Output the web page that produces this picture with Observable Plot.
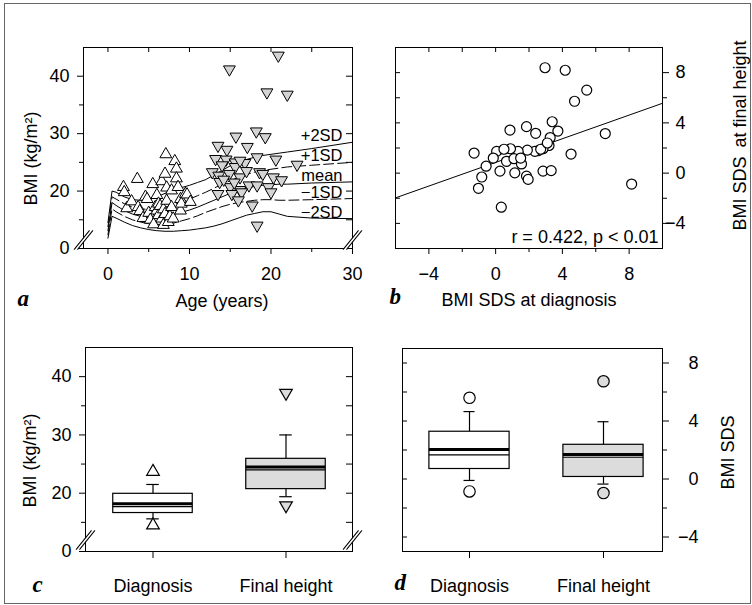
<!DOCTYPE html>
<html>
<head>
<meta charset="utf-8">
<script src="https://cdn.jsdelivr.net/npm/d3@7"></script>
<script src="https://cdn.jsdelivr.net/npm/@observablehq/plot@0.6"></script>
<style>
  html, body { margin: 0; padding: 0; background: #fff; }
  #fig { position: relative; width: 752px; height: 605px; overflow: hidden; }
  #fig .border { position: absolute; left: 4px; top: 3px; width: 747px; height: 601px; border: 1px solid #666; box-sizing: border-box; }
  #fig .panel { position: absolute; }
</style>
</head>
<body>
<div id="fig"><div class="border"></div></div>
<script>
// ---- Reference BMI curves by age (kg/m²) ----
const refAges = [0, 0.5, 1, 2, 3, 4, 5, 6, 7, 8, 9, 10, 11, 12, 13, 14, 15, 16, 17, 18, 19, 20, 21, 22, 25, 30];
const refPlus2 = [14.5, 20.0, 19.8, 19.0, 18.5, 18.4, 18.6, 19.0, 19.6, 20.2, 20.6, 21.0, 21.5, 22.0, 22.8, 23.6, 24.4, 25.0, 25.5, 25.9, 26.2, 26.4, 26.6, 26.8, 27.4, 28.5];
const refPlus1 = [13.8, 19.0, 18.6, 17.8, 17.2, 16.9, 16.8, 16.9, 17.2, 17.6, 18.1, 18.6, 19.2, 19.8, 20.5, 21.2, 21.8, 22.4, 22.9, 23.3, 23.6, 23.8, 24.0, 24.2, 24.5, 25.0];
const refMean  = [13.1, 18.0, 17.5, 16.6, 16.0, 15.6, 15.4, 15.4, 15.6, 15.9, 16.3, 16.7, 17.2, 17.8, 18.4, 19.0, 19.6, 20.1, 20.5, 20.8, 21.0, 21.1, 21.2, 21.2, 21.4, 21.6];
const refMinus1 = [12.4, 16.9, 16.4, 15.6, 15.0, 14.6, 14.3, 14.2, 14.2, 14.4, 14.8, 15.2, 15.7, 16.3, 16.8, 17.3, 17.7, 18.0, 18.2, 18.4, 18.5, 18.5, 18.4, 18.4, 18.5, 18.7];
const refMinus2 = [11.8, 15.6, 15.3, 14.6, 14.0, 13.6, 13.3, 13.1, 13.0, 13.0, 13.1, 13.2, 13.4, 13.6, 13.9, 14.3, 14.8, 15.3, 15.8, 16.1, 16.4, 16.4, 16.0, 15.6, 15.3, 15.2];
const refNames = ["+2SD", "+1SD", "mean", "\u22121SD", "\u22122SD"];
const refDashed = [false, true, false, true, false];

// ---- Individual BMI at diagnosis and at final height ----
const diagAge = [1.9, 2.0, 2.3, 2.9, 3.6, 3.7, 3.9, 4.3, 4.6, 4.8, 5.0, 5.2, 5.5, 5.6, 5.8, 6.0, 6.0, 6.2, 6.2, 6.4, 6.6, 6.6, 6.8, 6.8, 7.0, 7.0, 7.1, 7.2, 7.2, 7.4, 7.6, 7.8, 7.8, 8.0, 8.2, 8.4, 8.4, 8.6, 8.9, 8.9, 9.0, 9.5, 9.7, 10.1];
const diagBmi = [20.7, 19.8, 17.0, 18.2, 22.1, 17.2, 16.5, 15.3, 19.0, 18.6, 16.2, 15.0, 21.2, 14.2, 17.2, 19.3, 16.6, 17.8, 15.8, 17.4, 21.7, 15.2, 16.8, 14.1, 23.0, 16.0, 26.4, 20.6, 18.3, 14.6, 15.6, 20.1, 17.2, 15.2, 25.2, 23.9, 22.2, 20.7, 18.6, 16.6, 17.8, 19.5, 19.4, 18.1];
const finalAge = [20.9, 14.9, 19.5, 22.0, 18.2, 19.3, 15.7, 13.5, 14.6, 17.1, 13.2, 14.5, 15.6, 16.8, 18.3, 20.6, 23.2, 15.6, 16.2, 12.8, 13.6, 14.9, 16.2, 18.6, 20.3, 21.3, 13.7, 15.0, 16.2, 17.3, 18.3, 19.7, 13.5, 15.2, 16.4, 20.0, 16.0, 17.7, 18.3, 14.2, 17.0, 19.0, 15.5, 14.0];
const finalBmi = [43.6, 41.2, 37.2, 36.8, 30.4, 29.4, 29.5, 27.9, 27.2, 27.7, 25.6, 25.5, 25.0, 24.9, 25.9, 25.5, 24.6, 24.2, 25.3, 23.3, 22.7, 23.0, 22.4, 23.3, 22.4, 21.9, 21.6, 20.7, 20.2, 21.0, 21.0, 20.7, 19.5, 19.5, 19.8, 19.8, 18.4, 17.5, 14.0, 22.0, 23.5, 23.0, 21.5, 24.5];

// ---- BMI SDS at diagnosis vs at final height ----
const sdsDiag = [2.96, 4.17, 5.46, 4.73, 3.39, 3.73, 0.86, 1.85, 2.40, 6.57, 3.27, 3.20, 2.84, 2.54, 2.35, 1.90, 1.35, 0.89, 0.06, -1.29, -0.14, -0.57, 0.65, 1.10, 1.55, 0.26, 1.15, 1.85, 1.95, 2.84, 3.33, -0.83, -1.03, 4.52, 8.15, 0.34, 0.5, 1.5, 2.7, 3.1];
const sdsFinal = [8.39, 8.19, 6.61, 5.72, 4.09, 3.35, 3.43, 3.70, 3.17, 3.15, 2.83, 2.20, 1.94, 1.78, 1.73, 1.83, 1.73, 1.94, 1.73, 1.60, 1.20, 0.55, 0.94, 1.15, 0.73, 0.16, 0.02, -0.24, -0.50, 0.16, 0.20, -0.31, -1.21, 1.52, -0.87, -2.71, 1.9, 1.2, 1.9, 2.4];
const fitX = [-6, 10];
const fitY = [-1.97, 5.56];
const fitText = "r = 0.422, p < 0.01";

// ---- Box plot summaries ----
const groups = ["Diagnosis", "Final height"];
const bmiQ1 = [16.6, 20.7], bmiQ3 = [19.9, 25.9], bmiMedian = [18.2, 24.5], bmiMean = [17.7, 24.0];
const bmiLo = [15.6, 19.4], bmiHi = [21.5, 30.0], bmiOutLo = [14.5, 17.9], bmiOutHi = [23.7, 37.2];
const sdsQ1 = [0.69, 0.14], sdsQ3 = [3.26, 2.36], sdsMedian = [2.03, 1.69], sdsMean = [1.67, 1.50];
const sdsLo = [-0.1, -0.35], sdsHi = [4.65, 3.95], sdsOutLo = [-0.86, -0.97], sdsOutHi = [5.6, 6.74];

// ---- Tick values ----
const ageTicks = [0, 10, 20, 30], ageMinor = [5, 15, 25], ageTop = [0, 5, 10, 15, 20, 25];
const bmiTicks = [10, 20, 30, 40], bmiMinor = [15, 25, 35], bmiRight = [15, 20, 25, 30, 35, 40];
const sdsTicks = [-4, 0, 4, 8], sdsMinor = [-2, 2, 6], sdsAll = [-4, -2, 0, 2, 4, 6, 8];

// ---- Shared styling ----
const FONT = '"Liberation Sans", Arial, Helvetica, sans-serif';
const SERIF = '"Liberation Serif", "Times New Roman", serif';
const baseStyle = {fontFamily: FONT, fontSize: "18px", color: "#000", background: "transparent", overflow: "visible"};
const GRAY_MARK = "#d4d4d4";
const GRAY_BOX = "#dcdcdc";
const fmt = d => d < 0 ? "\u2212" + Math.abs(d) : String(d);
const bmiFmt = d => d === 10 ? "0" : String(d);

const title = (s, o) => Plot.text([s], {text: d => d, fontSize: 18, ...o});
const letter = (s, o) => Plot.text([s], {text: d => d, fontFamily: SERIF, fontWeight: "bold", fontStyle: "italic",
  fontSize: 23, textAnchor: "start", lineAnchor: "bottom", frameAnchor: "bottom-left", ...o});
// axis break: two parallel slashes across a frame corner with a white gap between
const axisBreak = (anchor, dy) => [
  Plot.vector([0], {frameAnchor: anchor, dy, length: 24, rotate: 39, anchor: "middle", r: 0, stroke: "white", strokeWidth: 2.4}),
  Plot.vector([0], {frameAnchor: anchor, dy, dx: -1.7, length: 24, rotate: 39, anchor: "middle", r: 0, stroke: "black", strokeWidth: 1}),
  Plot.vector([0], {frameAnchor: anchor, dy, dx: 1.7, length: 24, rotate: 39, anchor: "middle", r: 0, stroke: "black", strokeWidth: 1})
];

function place(svg, left, top) {
  const holder = document.createElement("div");
  holder.className = "panel";
  holder.style.left = left + "px";
  holder.style.top = top + "px";
  holder.appendChild(svg);
  document.getElementById("fig").appendChild(holder);
}

// ---------- a: BMI vs age ----------
{
  const m = {top: 47, right: 24, bottom: 62, left: 83}, W = 376, H = 310;
  const pw = W - m.left - m.right, ph = H - m.top - m.bottom;
  const series = [refPlus2, refPlus1, refMean, refMinus1, refMinus2];
  const curves = refNames.flatMap((name, i) => refAges.map((age, j) => ({name, dashed: refDashed[i], age, bmi: series[i][j]})));
  const ends = refNames.map((name, i) => ({name, age: refAges[refAges.length - 1], bmi: series[i][series[i].length - 1]}));
  const diag = diagAge.map((age, i) => ({age, bmi: diagBmi[i]}));
  const fin = finalAge.map((age, i) => ({age, bmi: finalBmi[i]}));
  place(Plot.plot({
    width: W, height: H, marginTop: m.top, marginRight: m.right, marginBottom: m.bottom, marginLeft: m.left,
    style: baseStyle,
    x: {domain: [-3, 30]},
    y: {domain: [10, 45]},
    marks: [
      Plot.frame({stroke: "black"}),
      Plot.axisX({ticks: ageTicks, tickSize: 6, tickPadding: 13, label: null}),
      Plot.axisX({ticks: ageMinor, tickSize: 4, tickFormat: () => "", label: null}),
      Plot.axisY({ticks: bmiTicks, tickSize: 6, tickPadding: 8, tickFormat: bmiFmt, label: null}),
      Plot.axisY({ticks: bmiMinor, tickSize: 4, tickFormat: () => "", label: null}),
      Plot.tickX(ageTop, {x: d => d, insetBottom: ph - 5}),
      Plot.tickY(bmiRight, {y: d => d, insetLeft: pw - 6}),
      ...axisBreak("bottom-left", -8.5),
      ...axisBreak("bottom-right", -8.5),
      Plot.line(curves.filter(d => !d.dashed), {x: "age", y: "bmi", z: "name", stroke: "black", strokeWidth: 1}),
      Plot.line(curves.filter(d => d.dashed), {x: "age", y: "bmi", z: "name", stroke: "black", strokeWidth: 1, strokeDasharray: "10,4"}),
      Plot.text(ends, {x: "age", y: "bmi", text: "name", textAnchor: "end", lineAnchor: "bottom", dx: -10, dy: -1, fontSize: 16.5}),
      Plot.dot(diag, {x: "age", y: "bmi", symbol: "triangle", r: 4.4, fill: "white", stroke: "black", strokeWidth: 1}),
      Plot.dot(fin, {x: "age", y: "bmi", symbol: "triangle", rotate: 180, r: 4.4, fill: GRAY_MARK, stroke: "black", strokeWidth: 1}),
      title("BMI (kg/m\u00b2)", {frameAnchor: "left", rotate: -90, dx: -52.5, dy: 10.5, textAnchor: "middle", lineAnchor: "middle"}),
      title("Age (years)", {frameAnchor: "bottom", dx: 4, dy: 58, lineAnchor: "bottom"}),
      letter("a", {dx: -66, dy: 57})
    ]
  }), 0, 0);
}

// ---------- b: BMI SDS at final height vs at diagnosis ----------
{
  const m = {top: 47, right: 90, bottom: 62, left: 19}, W = 376, H = 310;
  const pw = W - m.left - m.right, ph = H - m.top - m.bottom;
  const pts = sdsDiag.map((x, i) => ({x, y: sdsFinal[i]}));
  const fit = fitX.map((x, i) => ({x, y: fitY[i]}));
  place(Plot.plot({
    width: W, height: H, marginTop: m.top, marginRight: m.right, marginBottom: m.bottom, marginLeft: m.left,
    style: baseStyle,
    x: {domain: [-6, 10]},
    y: {domain: [-6, 10]},
    marks: [
      Plot.frame({stroke: "black"}),
      Plot.axisX({ticks: sdsTicks, tickSize: 6, tickPadding: 13, tickFormat: fmt, label: null}),
      Plot.axisX({ticks: sdsMinor, tickSize: 4, tickFormat: () => "", label: null}),
      Plot.axisY({anchor: "right", ticks: sdsTicks, tickSize: 6, tickPadding: 17, textAnchor: "end", tickFormat: fmt, label: null}),
      Plot.axisY({anchor: "right", ticks: sdsMinor, tickSize: 4, tickFormat: () => "", label: null}),
      Plot.tickX(sdsAll, {x: d => d, insetBottom: ph - 5}),
      Plot.tickY(sdsAll, {y: d => d, insetRight: pw - 5}),
      Plot.line(fit, {x: "x", y: "y", stroke: "black", strokeWidth: 1}),
      Plot.dot(pts, {x: "x", y: "y", r: 5, fill: "white", stroke: "black", strokeWidth: 1.2}),
      Plot.text([fitText], {text: d => d, frameAnchor: "bottom-right", dx: -4, dy: -5.5, textAnchor: "end", lineAnchor: "bottom", fontSize: 18}),
      title("BMI SDS\u2002at final height", {frameAnchor: "right", rotate: -90, dx: 78, dy: -12.5, textAnchor: "middle", lineAnchor: "middle"}),
      title("BMI SDS at diagnosis", {frameAnchor: "bottom", dy: 57, lineAnchor: "bottom"}),
      letter("b", {dx: -6, dy: 55})
    ]
  }), 376, 0);
}

// box plot marks shared by c and d
function boxMarks(rows, boxInset, capInset, outSymbols, outR) {
  return [
    Plot.ruleX(rows, {x: "group", y1: "lo", y2: "q1", stroke: "black", strokeWidth: 1.2}),
    Plot.ruleX(rows, {x: "group", y1: "q3", y2: "hi", stroke: "black", strokeWidth: 1.2}),
    Plot.tickY(rows, {x: "group", y: "lo", insetLeft: capInset, insetRight: capInset, strokeWidth: 1.2}),
    Plot.tickY(rows, {x: "group", y: "hi", insetLeft: capInset, insetRight: capInset, strokeWidth: 1.2}),
    Plot.barY(rows, {x: "group", y1: "q1", y2: "q3", fill: "fill", stroke: "black", strokeWidth: 1.2, insetLeft: boxInset, insetRight: boxInset}),
    Plot.tickY(rows, {x: "group", y: "median", insetLeft: boxInset, insetRight: boxInset, strokeWidth: 3}),
    Plot.tickY(rows, {x: "group", y: "mean", insetLeft: boxInset, insetRight: boxInset, strokeWidth: 1.2}),
    ...["outLo", "outHi"].map(k => Plot.dot(rows, {x: "group", y: k, r: outR, fill: "fill", stroke: "black", strokeWidth: 1.2, ...outSymbols}))
  ];
}

// ---------- c: BMI box plots ----------
{
  const m = {top: 37, right: 24, bottom: 54, left: 85}, W = 376, H = 295;
  const pw = W - m.left - m.right;
  const rows = groups.map((group, i) => ({group, fill: i ? GRAY_BOX : "white",
    q1: bmiQ1[i], q3: bmiQ3[i], median: bmiMedian[i], mean: bmiMean[i], lo: bmiLo[i], hi: bmiHi[i], outLo: bmiOutLo[i], outHi: bmiOutHi[i]}));
  place(Plot.plot({
    width: W, height: H, marginTop: m.top, marginRight: m.right, marginBottom: m.bottom, marginLeft: m.left,
    style: baseStyle,
    x: {type: "band", domain: groups, padding: 0},
    y: {domain: [10, 45]},
    color: {type: "identity"},
    marks: [
      Plot.frame({stroke: "black"}),
      Plot.axisX({tickSize: 7, tickPadding: 21, label: null}),
      Plot.axisY({ticks: bmiTicks, tickSize: 6, tickPadding: 8, tickFormat: bmiFmt, label: null}),
      Plot.axisY({ticks: bmiMinor, tickSize: 4, tickFormat: () => "", label: null}),
      Plot.tickY(bmiRight, {y: d => d, insetLeft: pw - 6}),
      ...axisBreak("bottom-left", -11.5),
      ...axisBreak("bottom-right", -11.5),
      ...boxMarks(rows, 26.75, 60.25, {symbol: "triangle", rotate: d => d.group === groups[1] ? 180 : 0}, 4.7),
      title("BMI (kg/m\u00b2)", {frameAnchor: "left", rotate: -90, dx: -55, dy: 11, textAnchor: "middle", lineAnchor: "middle"}),
      letter("c", {dx: -53, dy: 40})
    ]
  }), 0, 310);
}

// ---------- d: BMI SDS box plots ----------
{
  const m = {top: 38, right: 90, bottom: 54, left: 26}, W = 376, H = 295;
  const pw = W - m.left - m.right;
  const rows = groups.map((group, i) => ({group, fill: i ? GRAY_BOX : "white",
    q1: sdsQ1[i], q3: sdsQ3[i], median: sdsMedian[i], mean: sdsMean[i], lo: sdsLo[i], hi: sdsHi[i], outLo: sdsOutLo[i], outHi: sdsOutHi[i]}));
  place(Plot.plot({
    width: W, height: H, marginTop: m.top, marginRight: m.right, marginBottom: m.bottom, marginLeft: m.left,
    style: baseStyle,
    x: {type: "band", domain: groups, padding: 0, range: [25.5, 294.2]},
    y: {domain: [-5, 9]},
    color: {type: "identity"},
    marks: [
      Plot.frame({stroke: "black"}),
      Plot.axisX({tickSize: 7, tickPadding: 21, label: null}),
      Plot.axisY({anchor: "right", ticks: sdsTicks, tickSize: 6, tickPadding: 30, textAnchor: "end", tickFormat: fmt, label: null}),
      Plot.axisY({anchor: "right", ticks: sdsMinor, tickSize: 4, tickFormat: () => "", label: null}),
      Plot.tickY(sdsAll, {y: d => d, insetRight: pw - 5}),
      ...boxMarks(rows, 26.9, 61.5, {}, 5.7),
      title("BMI SDS", {frameAnchor: "right", rotate: -90, dx: 65.5, dy: 2.5, textAnchor: "middle", lineAnchor: "middle"}),
      letter("d", {dx: -8, dy: 38})
    ]
  }), 376, 310);
}
</script>
</body>
</html>
